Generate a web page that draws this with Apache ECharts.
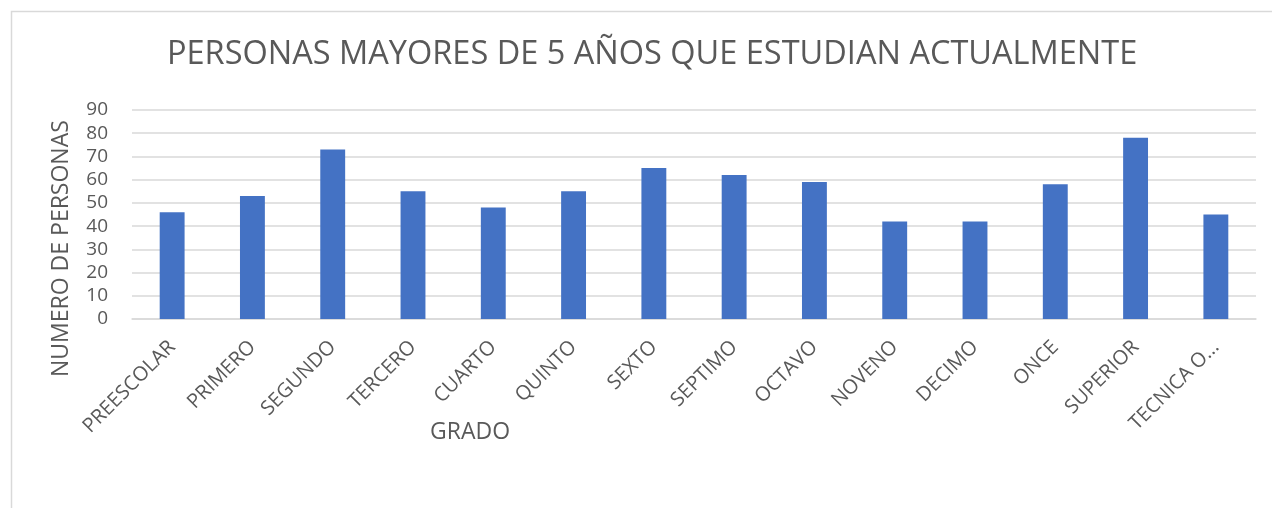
<!DOCTYPE html>
<html>
<head>
<meta charset="utf-8">
<script src="https://cdn.jsdelivr.net/npm/echarts@6/dist/echarts.min.js"></script>
<style>
  html, body { margin: 0; padding: 0; background: #fff; }
  #echartsShow { width: 1272px; height: 508px; }
</style>
</head>
<body>
<div id="echartsShow"></div>
<script>
var grados = ['PREESCOLAR', 'PRIMERO', 'SEGUNDO', 'TERCERO', 'CUARTO', 'QUINTO', 'SEXTO',
    'SEPTIMO', 'OCTAVO', 'NOVENO', 'DECIMO', 'ONCE', 'SUPERIOR', 'TECNICA O...'];
var personas = [46, 53, 73, 55, 48, 55, 65, 62, 59, 42, 42, 58, 78, 45];
var yTicks = [0, 10, 20, 30, 40, 50, 60, 70, 80, 90];

var fuente = '"Open Sans", "Noto Sans", sans-serif';
var gris = '#595959';

var echartsShow = echarts.init(document.getElementById('echartsShow'));
var option = {
    animation: false,
    backgroundColor: '#fff',
    title: {
        text: 'PERSONAS MAYORES DE 5 AÑOS QUE ESTUDIAN ACTUALMENTE',
        left: 162,
        top: 33,
        textStyle: {
            color: gris,
            fontFamily: fuente,
            fontWeight: 'normal',
            fontSize: 32.5
        }
    },
    graphic: [
        {
            type: 'rect',
            shape: { x: 11.5, y: 11.5, width: 1400, height: 700 },
            style: { fill: 'none', stroke: '#d9d9d9', lineWidth: 1.5 },
            silent: true
        },
        {
            type: 'text',
            left: 430,
            top: 421,
            style: { text: 'GRADO', fill: gris, font: '23px ' + fuente }
        },
        {
            type: 'text',
            x: 50,
            y: 377,
            rotation: Math.PI / 2,
            style: { text: 'NUMERO DE PERSONAS', fill: gris, font: '23px ' + fuente }
        }
    ],
    grid: {
        left: 132,
        right: 16,
        top: 110,
        bottom: 189,
        containLabel: false
    },
    xAxis: [{
        type: 'category',
        data: grados,
        axisLine: { lineStyle: { color: '#d9d9d9', width: 1.5 } },
        axisTick: { show: false },
        axisLabel: {
            interval: 0,
            rotate: 45,
            margin: 25,
            color: gris,
            fontFamily: fuente,
            fontSize: 20
        }
    }],
    yAxis: [{
        type: 'value',
        min: yTicks[0],
        max: yTicks[yTicks.length - 1],
        interval: 10,
        axisLine: { show: false },
        axisTick: { show: false },
        axisLabel: {
            margin: 24,
            color: gris,
            fontFamily: fuente,
            fontSize: 19
        },
        splitLine: { lineStyle: { color: '#d9d9d9', width: 1.5 } }
    }],
    series: [{
        name: 'PERSONAS',
        type: 'bar',
        data: personas,
        barWidth: '31%',
        itemStyle: {
            color: '#4472c4'
        }
    }]
};
echartsShow.setOption(option);
</script>
</body>
</html>
